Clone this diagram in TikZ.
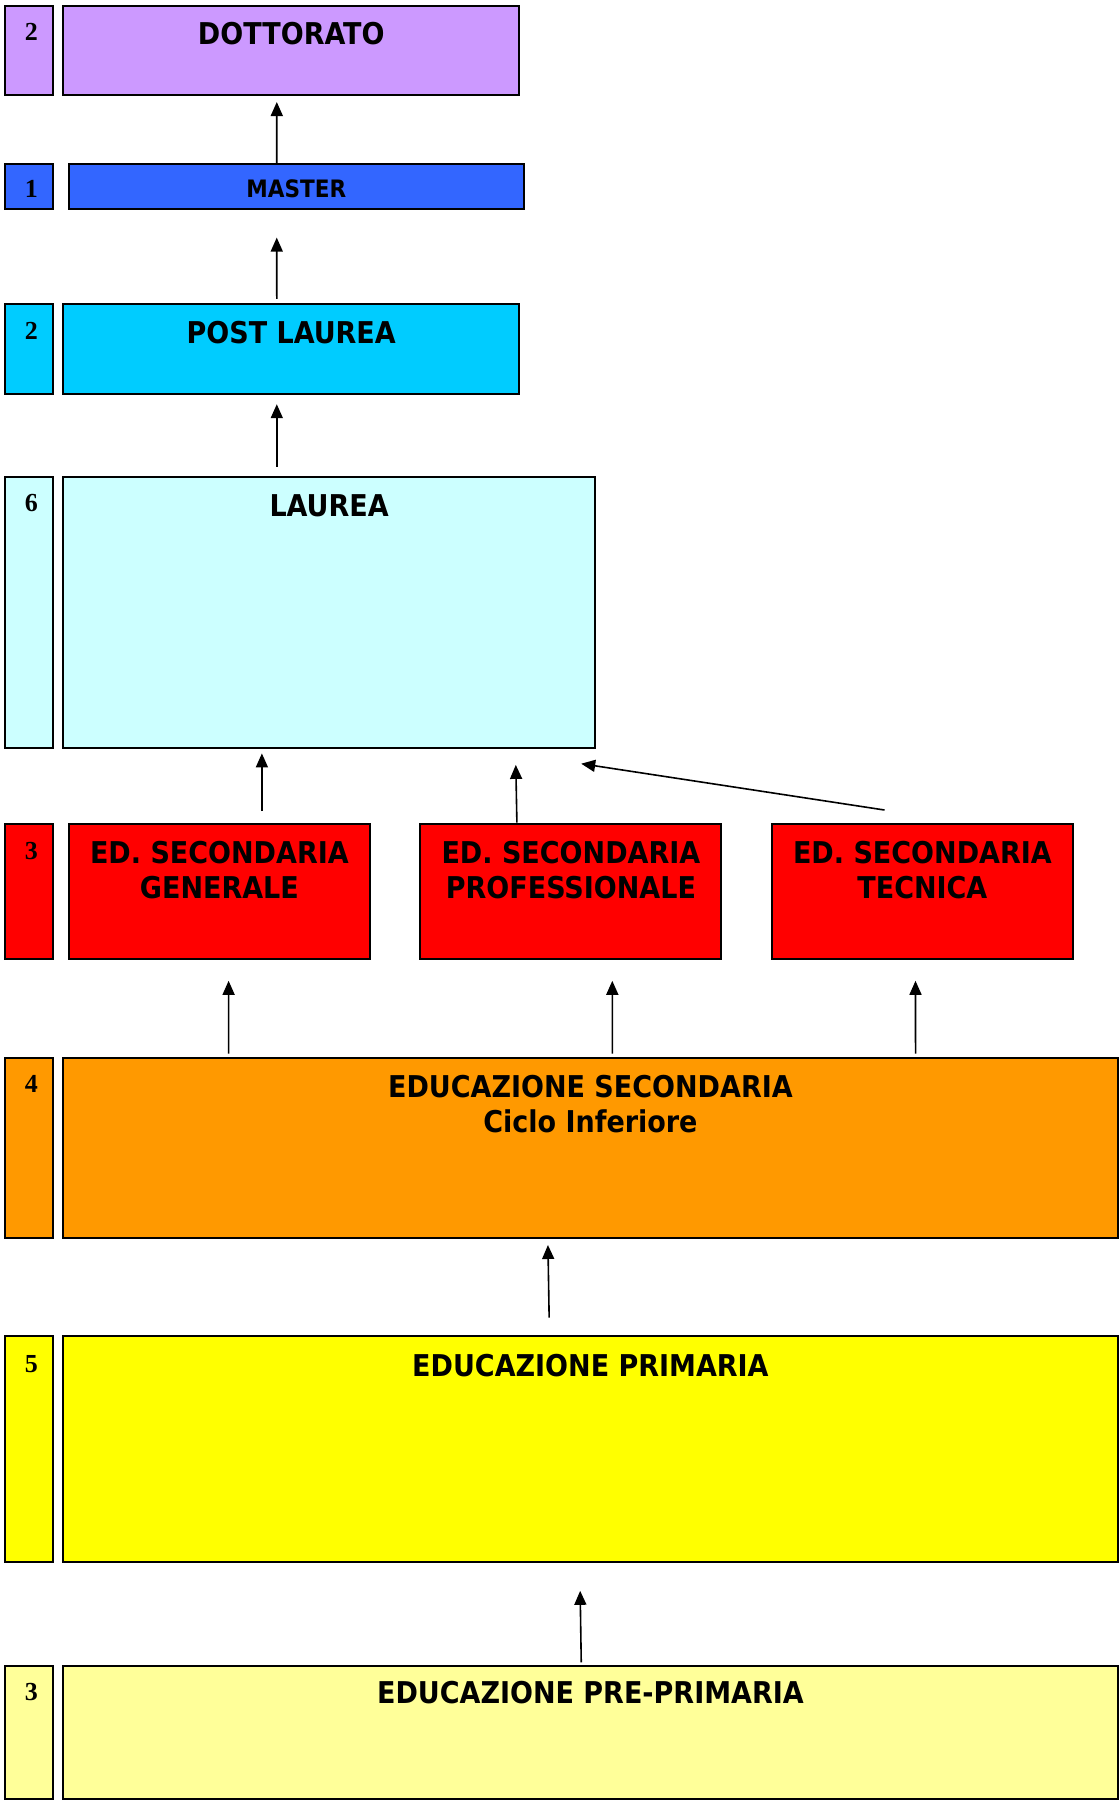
\documentclass[tikz,border=0pt]{standalone}
\usepackage{fontspec}
\usetikzlibrary{calc,fit,arrows.meta}
\newfontfamily\boxfont{DejaVu Sans Condensed}
\newfontfamily\numfont{Liberation Serif}
\definecolor{cdott}{HTML}{CC99FF}
\definecolor{cmaster}{HTML}{3366FF}
\definecolor{cpost}{HTML}{00CCFF}
\definecolor{claurea}{HTML}{CCFFFF}
\definecolor{csec}{HTML}{FF0000}
\definecolor{cinf}{HTML}{FF9900}
\definecolor{cprim}{HTML}{FFFF00}
\definecolor{cpre}{HTML}{FFFF99}
\begin{document}
\begin{tikzpicture}[x=0.5pt,y=-0.5pt,
  box/.style={draw=black, line width=1pt, inner sep=0pt, rectangle},
  numtxt/.style={font=\numfont\bfseries\fontsize{13}{15}\selectfont, inner sep=0pt},
  title/.style={font=\boxfont\bfseries\fontsize{15}{17.5}\selectfont, inner sep=0pt, anchor=north, align=center},
  arr/.style={line width=0.8pt, -{Triangle[length=7pt,width=6pt]}}]
\useasboundingbox (0,0) rectangle (1120,1801);

% DOTTORATO
\node[box, fill=cdott, fit={(5,5.7) (53,95.3)}] (n1) {};
\node[box, fill=cdott, fit={(63.2,5.7) (519.2,95.3)}] (dott) {};
\node[numtxt] (t1) at ($(n1.north)+(2.5,27.6)$) {2};
\node[title] (tdott) at ($(dott.north)+(0,17.5)$) {DOTTORATO};

% MASTER
\node[box, fill=cmaster, fit={(5,164.3) (53,209)}] (n2) {};
\node[box, fill=cmaster, fit={(68.9,164.3) (523.8,209)}] (master) {};
\node[numtxt] (t2) at ($(n2.center)+(2.5,2)$) {1};
\node[font=\boxfont\bfseries\fontsize{12}{14}\selectfont, inner sep=0pt] (tmaster) at ($(master.center)+(0,2.5)$) {MASTER};

% POST LAUREA
\node[box, fill=cpost, fit={(5,304.4) (53,394)}] (n3) {};
\node[box, fill=cpost, fit={(63.2,304.4) (519.2,394)}] (post) {};
\node[numtxt] (t3) at ($(n3.north)+(2.5,27.6)$) {2};
\node[title] (tpost) at ($(post.north)+(0,17.5)$) {POST LAUREA};

% LAUREA
\node[box, fill=claurea, fit={(5,476.7) (53,747.8)}] (n4) {};
\node[box, fill=claurea, fit={(63.2,476.7) (595,747.8)}] (laurea) {};
\node[numtxt] (t4) at ($(n4.north)+(2.5,27)$) {6};
\node[title] (tlaurea) at ($(laurea.north)+(0,18.5)$) {LAUREA};

% ED. SECONDARIA
\node[box, fill=csec, fit={(5,823.6) (53,959.2)}] (n5) {};
\node[box, fill=csec, fit={(68.9,823.6) (369.9,959.2)}] (gen) {};
\node[box, fill=csec, fit={(420.4,823.6) (721.4,959.2)}] (prof) {};
\node[box, fill=csec, fit={(771.9,823.6) (1072.9,959.2)}] (tec) {};
\node[numtxt] (t5) at ($(n5.north)+(2.5,28)$) {3};
\node[title] (tgen) at ($(gen.north)+(0,18.5)$) {ED. SECONDARIA\\GENERALE};
\node[title] (tprof) at ($(prof.north)+(0,18.5)$) {ED. SECONDARIA\\PROFESSIONALE};
\node[title] (ttec) at ($(tec.north)+(0,18.5)$) {ED. SECONDARIA\\TECNICA};

% EDUCAZIONE SECONDARIA
\node[box, fill=cinf, fit={(5,1058) (53,1238.3)}] (n6) {};
\node[box, fill=cinf, fit={(63.2,1058) (1117.7,1238.3)}] (edsec) {};
\node[numtxt] (t6) at ($(n6.north)+(2.5,27)$) {4};
\node[title] (tedsec) at ($(edsec.north)+(0,17.5)$) {EDUCAZIONE SECONDARIA\\Ciclo Inferiore};

% EDUCAZIONE PRIMARIA
\node[box, fill=cprim, fit={(5,1336) (53,1562.3)}] (n7) {};
\node[box, fill=cprim, fit={(63.2,1336) (1117.7,1562.3)}] (prim) {};
\node[numtxt] (t7) at ($(n7.north)+(2.5,29)$) {5};
\node[title] (tprim) at ($(prim.north)+(0,18.5)$) {EDUCAZIONE PRIMARIA};

% PRE-PRIMARIA
\node[box, fill=cpre, fit={(5,1665.6) (53,1798.9)}] (n8) {};
\node[box, fill=cpre, fit={(63.2,1665.6) (1117.7,1798.9)}] (pre) {};
\node[numtxt] (t8) at ($(n8.north)+(2.5,27.5)$) {3};
\node[title] (tpre) at ($(pre.north)+(0,16.5)$) {EDUCAZIONE PRE-PRIMARIA};

% arrows
\draw[arr] ($(master.north)+(-19.6,0)$) -- ($(dott.south)+(-14.4,5.7)$);
\draw[arr] ($(post.north)+(-14.4,-4.6)$) -- ($(master.south)+(-19.6,27.6)$);
\draw[arr] ($(laurea.north)+(-52.3,-9.2)$) -- ($(post.south)+(-14.4,9.2)$);
\draw[arr] ($(gen.north)+(42.5,-11.5)$) -- ($(laurea.south)+(-67.2,4.6)$);
\draw[arr] ($(prof.north)+(-54,0)$) -- ($(laurea.south)+(186.7,16.1)$);
\draw[arr] ($(tec.north)+(-37.9,-12.6)$) -- ($(laurea.south)+(252.1,14.9)$);
\draw[arr] ($(edsec.north)+(-361.8,-3.5)$) -- ($(gen.south)+(9.2,20.6)$);
\draw[arr] ($(edsec.north)+(21.9,-3.5)$) -- ($(prof.south)+(41.4,20.6)$);
\draw[arr] ($(edsec.north)+(325.1,-3.5)$) -- ($(tec.south)+(-6.9,20.6)$);
\draw[arr] ($(prim.north)+(-41.3,-17.3)$) -- ($(edsec.south)+(-42.5,5.7)$);
\draw[arr] ($(pre.north)+(-9.2,-2.3)$) -- ($(prim.south)+(-10.3,27.5)$);
\end{tikzpicture}
\end{document}
